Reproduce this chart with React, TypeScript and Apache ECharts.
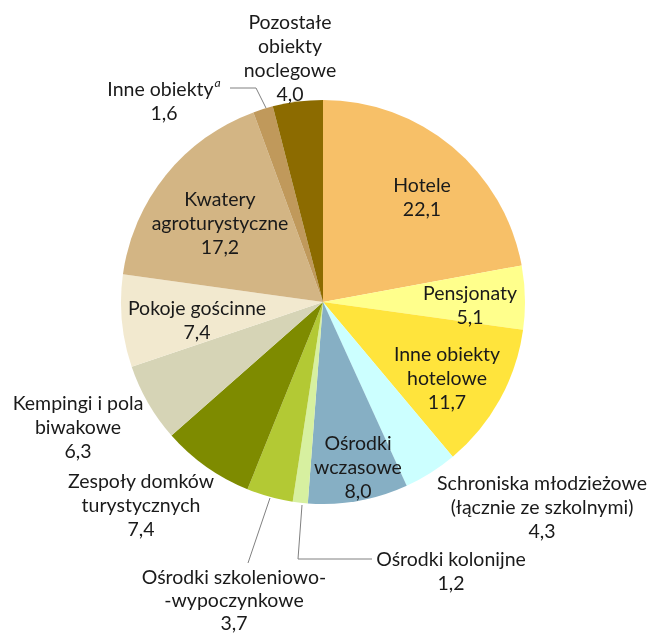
import React, { useEffect, useRef } from "react";
import * as echarts from "echarts";

const categories = [
  "Hotele",
  "Pensjonaty",
  "Inne obiekty\nhotelowe",
  "Schroniska młodzieżowe\n(łącznie ze szkolnymi)",
  "Ośrodki\nwczasowe",
  "Ośrodki kolonijne",
  "Ośrodki szkoleniowo-\n-wypoczynkowe",
  "Zespoły domków\nturystycznych",
  "Kempingi i pola\nbiwakowe",
  "Pokoje gościnne",
  "Kwatery\nagroturystyczne",
  "Inne obiekty",
  "Pozostałe\nobiekty\nnoclegowe",
];
const values = [22.1, 5.1, 11.7, 4.3, 8.0, 1.2, 3.7, 7.4, 6.3, 7.4, 17.2, 1.6, 4.0];
const colors = [
  "#F7C068", "#FFFF8C", "#FFE43C", "#CCFFFF", "#86AFC4", "#D7F0A0", "#B3C934",
  "#7E8B00", "#D6D4B6", "#F2E9CF", "#D3B584", "#C0995B", "#8C6B00",
];

// label anchor positions (centre of text block) and leader lines
const labelPos: [number, number][] = [
  [422, 196], [470, 304], [447, 377], [542, 506], [358, 466], [451, 570], [234, 599],
  [141, 504], [78, 426], [197, 319], [220, 222], [164, 100], [290, 57],
];
const leaderLines: Record<number, [number, number][]> = {
  11: [[266, 108], [256, 88], [230, 88]],
  6: [[270, 498], [248, 563], [248, 563]],
  5: [[302, 505], [298, 559], [372, 559]],
};

export default function App() {
  const ref = useRef<HTMLDivElement>(null);
  useEffect(() => {
    if (!ref.current) return;
    const chart = echarts.init(ref.current, null, { renderer: "svg" });
    const fmt = (v: number) => v.toFixed(1).replace(".", ",");
    const FS = 19.5;
    chart.setOption({
      animation: false,
      series: [
        {
          type: "pie",
          center: [323, 302],
          radius: [0, 202],
          startAngle: 90,
          clockwise: true,
          silent: true,
          itemStyle: { borderWidth: 0 },
          label: {
            show: true,
            position: "outside",
            fontFamily: "Lato",
            fontSize: FS,
            lineHeight: 24,
            color: "#1a1a1a",
            align: "center",
            overflow: "none",
            formatter: (p: any) =>
              p.dataIndex === 11
                ? "{n|Inne obiekty}{sup|a}\n{n|" + fmt(p.value) + "}"
                : p.name + "\n" + fmt(p.value),
            rich: {
              n: { fontFamily: "Lato", fontSize: FS, lineHeight: 24, color: "#1a1a1a" },
              sup: { fontFamily: "Lato", fontSize: 12, fontStyle: "italic", lineHeight: 24, verticalAlign: "top", color: "#1a1a1a", padding: [0, 0, 8, 1] },
            },
          },
          labelLine: { show: false, lineStyle: { color: "#808080", width: 1 }, smooth: false },
          labelLayout: (params: any) => {
            const i = params.dataIndex;
            const [x, y] = labelPos[i];
            const res: any = { x, y, align: "center", verticalAlign: "middle", hideOverlap: false, moveOverlap: false };
            if (leaderLines[i]) res.labelLinePoints = leaderLines[i];
            return res;
          },
          data: values.map((v, i) => ({
            name: categories[i],
            value: v,
            itemStyle: { color: colors[i] },
            labelLine: { show: !!leaderLines[i] },
            label: i === 6 ? { lineHeight: 23 } : undefined,
          })),
        },
      ],
    });
    return () => chart.dispose();
  }, []);
  return <div ref={ref} style={{ position: "fixed", left: 0, top: 0, width: 651, height: 633 }} />;
}
